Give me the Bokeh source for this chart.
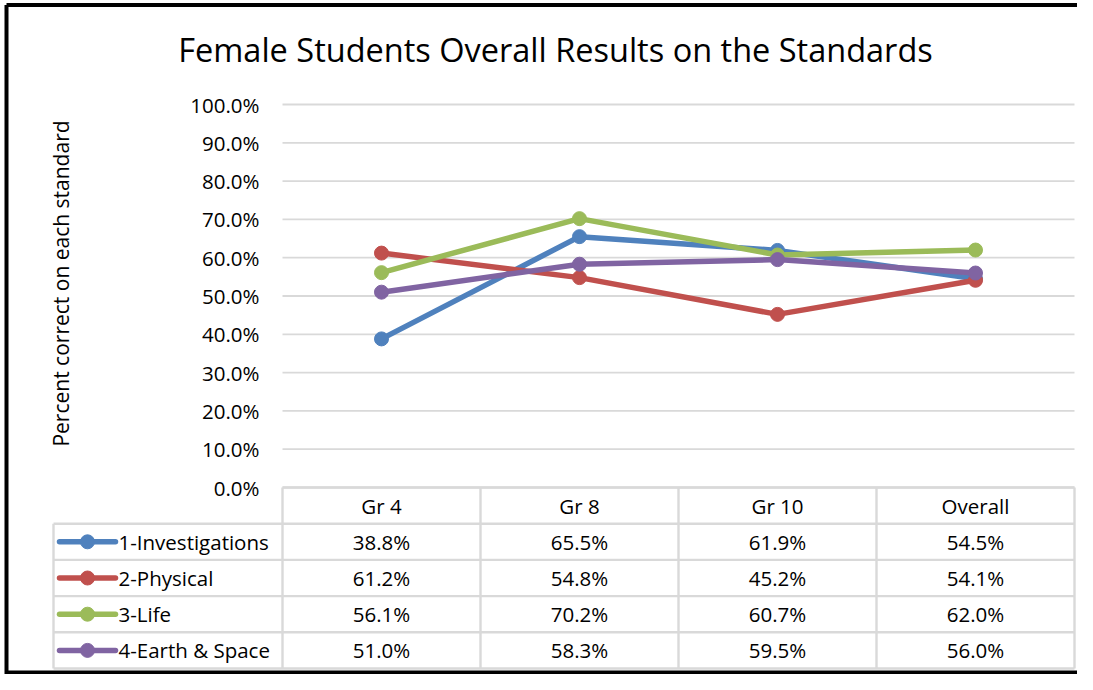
import math
from bokeh.plotting import figure
from bokeh.models import Range1d, ColumnDataSource
from bokeh.embed import file_html
from bokeh.resources import INLINE
from bokeh.core.properties import value

# ---------------- data ----------------
title_text = "Female Students Overall Results on the Standards"
y_label = "Percent correct on each standard"
categories = ["Gr 4", "Gr 8", "Gr 10", "Overall"]
series_names = ["1-Investigations", "2-Physical", "3-Life", "4-Earth & Space"]
investigations = [38.8, 65.5, 61.9, 54.5]
physical = [61.2, 54.8, 45.2, 54.1]
life = [56.1, 70.2, 60.7, 62.0]
earth_space = [51.0, 58.3, 59.5, 56.0]
y_ticks = [0, 10, 20, 30, 40, 50, 60, 70, 80, 90, 100]
colors = ["#4F81BD", "#C0504D", "#9BBB59", "#8064A2"]
series_values = [investigations, physical, life, earth_space]

# ---------------- layout (pixels) ----------------
W, H = 1077, 674
PLOT_L, PLOT_R = 282, 1074   # x of category band edges
Y100, Y0 = 104, 487          # y of 100% and 0%
ux = (PLOT_R - PLOT_L) / len(categories)
uy = (Y0 - Y100) / 100.0


def dx(px):
    return (px - PLOT_L) / ux


def dy(py):
    return (Y0 - py) / uy


x_range = Range1d(dx(0), dx(W))
y_range = Range1d(dy(H), dy(0))

p = figure(width=W, height=H, x_range=x_range, y_range=y_range,
           x_axis_type=None, y_axis_type=None, toolbar_location=None,
           output_backend="svg", min_border=0)
p.outline_line_color = None
p.background_fill_color = "white"
p.border_fill_color = "white"

FONT = value("Open Sans")
GRID = "#D9D9D9"
TXT = "#000000"
FS = "20.5px"

# outer frame (left, top, bottom edges)
xl, xr = dx(6), x_range.end
yt, yb = dy(4.5), y_range.start
p.segment(x0=[xl], y0=[yb], x1=[xl], y1=[yt], line_color="black", line_width=4)
p.segment(x0=[xl, xl], y0=[yt, yb], x1=[xr, xr], y1=[yt, yb],
          line_color="black", line_width=[4, 8])

# gridlines
n = len(categories)
p.segment(x0=[0] * len(y_ticks), x1=[n] * len(y_ticks), y0=y_ticks, y1=y_ticks,
          line_color=GRID, line_width=1.8)

# y tick labels
p.text(x=[dx(259)] * len(y_ticks), y=y_ticks, text=[f"{t:.1f}%" for t in y_ticks],
       text_font=FONT, text_font_size=FS, text_align="right",
       text_baseline="middle", text_color=TXT)

# title
p.text(x=[dx(555)], y=[dy(49)], text=[title_text], text_font=FONT,
       text_font_size="32.5px", text_align="center", text_baseline="middle",
       text_color=TXT)

# y axis label
p.text(x=[dx(60)], y=[dy(283)], text=[y_label], text_font=FONT,
       text_font_size="21px", text_align="center", text_baseline="middle",
       angle=math.pi / 2, text_color=TXT)

# ---------------- table ----------------
ROW_H = 36.2 / uy
LEG_L = dx(53)
rows = len(series_names) + 1
hx0, hx1, hy = [], [], []
for i in range(rows + 1):
    hx0.append(0 if i == 0 else LEG_L)
    hx1.append(n)
    hy.append(-i * ROW_H)
p.segment(x0=hx0, x1=hx1, y0=hy, y1=hy, line_color=GRID, line_width=2.4)
vx = list(range(n + 1)) + [LEG_L]
vy0 = [0] * (n + 1) + [-ROW_H]
vy1 = [-rows * ROW_H] * (n + 2)
p.segment(x0=vx, x1=vx, y0=vy0, y1=vy1, line_color=GRID, line_width=2.4)

# header
p.text(x=[j + 0.5 for j in range(n)], y=[-0.5 * ROW_H] * n, text=categories,
       text_font=FONT, text_font_size=FS, text_align="center",
       text_baseline="middle", text_color=TXT)

# values
tx, ty, tt = [], [], []
for i, vals in enumerate(series_values):
    for j, v in enumerate(vals):
        tx.append(j + 0.5)
        ty.append(-(i + 1.5) * ROW_H)
        tt.append(f"{v:.1f}%")
p.text(x=tx, y=ty, text=tt, text_font=FONT, text_font_size=FS,
       text_align="center", text_baseline="middle", text_color=TXT)

# legend keys
for i, (name, col) in enumerate(zip(series_names, colors)):
    yc = -(i + 1.5) * ROW_H
    p.line(x=[dx(59), dx(115)], y=[yc, yc], line_color=col, line_width=5.5,
           line_cap="round")
    p.scatter(x=[dx(87)], y=[yc], marker="circle", size=14, fill_color=col,
              line_color=col)
    p.text(x=[dx(118)], y=[yc], text=[name], text_font=FONT,
           text_font_size=FS, text_align="left", text_baseline="middle",
           text_color=TXT)

# ---------------- series ----------------
xc = [j + 0.5 for j in range(n)]
for vals, col in zip(series_values, colors):
    src = ColumnDataSource(dict(x=xc, y=vals))
    p.line(x="x", y="y", source=src, line_color=col, line_width=5.5,
           line_join="round", line_cap="round")
    p.scatter(x="x", y="y", source=src, marker="circle", size=14,
              fill_color=col, line_color=col)

open("out.html", "w").write(file_html(p, INLINE))
